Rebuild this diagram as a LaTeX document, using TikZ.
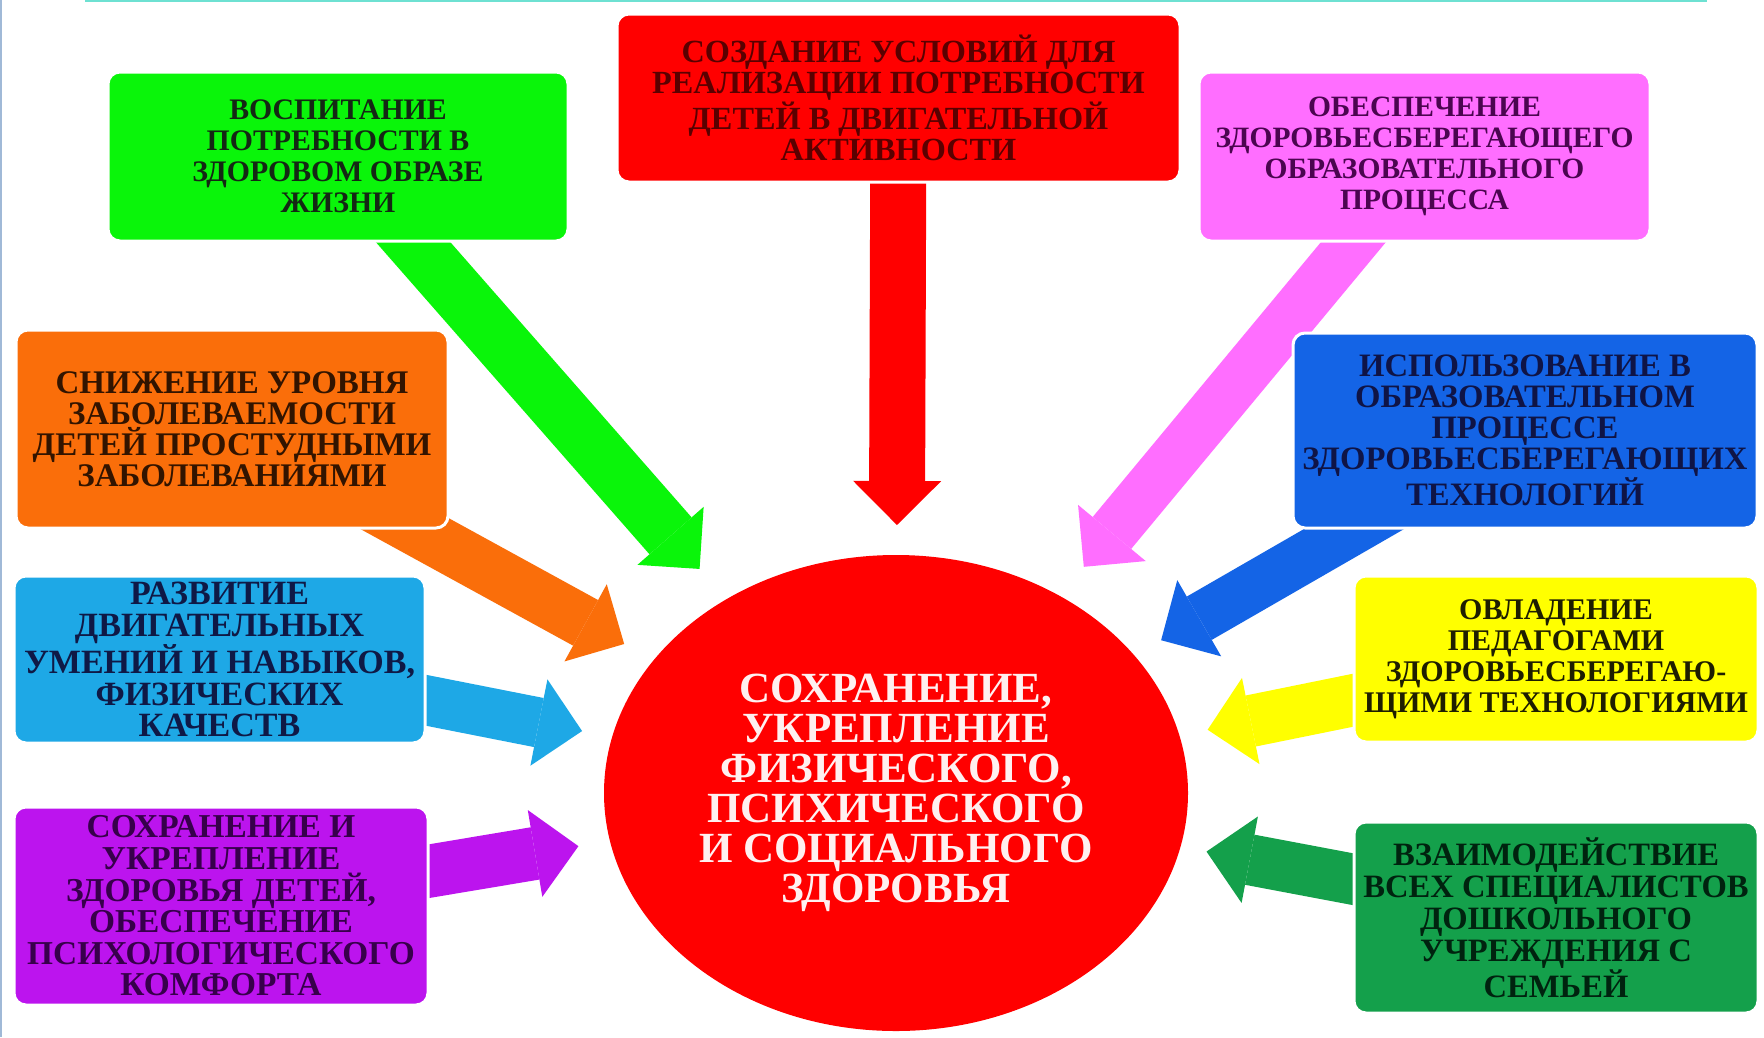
\documentclass[tikz,border=0pt]{standalone}
\usepackage{fontspec}
\setmainfont{Liberation Serif}
\usetikzlibrary{arrows.meta,shapes.geometric,calc}
\pgfdeclarelayer{bg}
\pgfsetlayers{bg,main}
\definecolor{cRed}{RGB}{255,0,0}
\definecolor{cGreen}{RGB}{10,245,10}
\definecolor{cPink}{RGB}{255,110,255}
\definecolor{cOrange}{RGB}{250,110,10}
\definecolor{cBlue}{RGB}{20,100,230}
\definecolor{cLBlue}{RGB}{30,168,230}
\definecolor{cYellow}{RGB}{255,255,0}
\definecolor{cPurple}{RGB}{188,20,238}
\definecolor{cDGreen}{RGB}{20,160,75}
\definecolor{tRed}{RGB}{90,0,0}
\definecolor{tGreen}{RGB}{20,40,20}
\definecolor{tPink}{RGB}{75,5,80}
\definecolor{tOrange}{RGB}{50,20,0}
\definecolor{tBlue}{RGB}{15,20,70}
\definecolor{tLBlue}{RGB}{15,25,70}
\definecolor{tYellow}{RGB}{30,30,0}
\definecolor{tPurple}{RGB}{55,0,75}
\definecolor{tDGreen}{RGB}{0,35,15}
\definecolor{topLine}{RGB}{110,225,210}
\definecolor{leftLine}{RGB}{160,185,215}
\definecolor{ellText}{RGB}{255,240,240}
\begin{document}
\begin{tikzpicture}[x=1pt,y=-1pt,
  box/.style={rectangle, rounded corners=12pt, draw=white, line width=3pt,
    align=center, inner sep=0pt, font=\bfseries},
  blockarrow/.style={line width=#1, -{Triangle[width=88pt,length=44pt,line width=0pt]}},
  blockarrow/.default=54pt,
  edgeline/.style={line width=2.5pt}
]
\useasboundingbox (0,0) rectangle (1764,1037);
\begin{pgfonlayer}{bg}
\fill[white] (0,0) rectangle (1764,1037);
\end{pgfonlayer}

% central ellipse
\node[ellipse, fill=cRed, minimum width=584pt, minimum height=476pt, inner sep=0pt,
  text=ellText, align=center, font=\bfseries\fontsize{43}{40}\selectfont] (ell) at (896,793)
  {СОХРАНЕНИЕ,\\УКРЕПЛЕНИЕ\\ФИЗИЧЕСКОГО,\\ПСИХИЧЕСКОГО\\И СОЦИАЛЬНОГО\\ЗДОРОВЬЯ};

% boxes
\node[box, fill=cRed, text=tRed, minimum width=563pt, minimum height=168pt,
  font=\bfseries\fontsize{32.3}{31}\selectfont] (create) at (898.5,98)
  {СОЗДАНИЕ УСЛОВИЙ ДЛЯ\\РЕАЛИЗАЦИИ ПОТРЕБНОСТИ\\ДЕТЕЙ В ДВИГАТЕЛЬНОЙ\\АКТИВНОСТИ};
\node[box, fill=cGreen, text=tGreen, minimum width=460pt, minimum height=169pt,
  font=\bfseries\fontsize{29.8}{31}\selectfont] (educ) at (338,156.5)
  {ВОСПИТАНИЕ\\ПОТРЕБНОСТИ В\\ЗДОРОВОМ ОБРАЗЕ\\ЖИЗНИ};
\node[box, fill=cPink, text=tPink, minimum width=451pt, minimum height=169pt,
  font=\bfseries\fontsize{29.5}{31}\selectfont] (provide) at (1424.5,156.5)
  {ОБЕСПЕЧЕНИЕ\\ЗДОРОВЬЕСБЕРЕГАЮЩЕГО\\ОБРАЗОВАТЕЛЬНОГО\\ПРОЦЕССА};
\node[box, fill=cOrange, text=tOrange, minimum width=432pt, minimum height=198pt,
  font=\bfseries\fontsize{33}{31}\selectfont] (reduce) at (232,429)
  {СНИЖЕНИЕ УРОВНЯ\\ЗАБОЛЕВАЕМОСТИ\\ДЕТЕЙ ПРОСТУДНЫМИ\\ЗАБОЛЕВАНИЯМИ};
\node[box, fill=cBlue, text=tBlue, minimum width=464pt, minimum height=195pt,
  font=\bfseries\fontsize{32.7}{31}\selectfont] (usage) at (1525,430.5)
  {ИСПОЛЬЗОВАНИЕ В\\ОБРАЗОВАТЕЛЬНОМ\\ПРОЦЕССЕ\\ЗДОРОВЬЕСБЕРЕГАЮЩИХ\\ТЕХНОЛОГИЙ};
\node[box, fill=cLBlue, text=tLBlue, minimum width=411pt, minimum height=167pt,
  font=\bfseries\fontsize{34}{31.8}\selectfont] (develop) at (219.5,659.5)
  {РАЗВИТИЕ\\ДВИГАТЕЛЬНЫХ\\УМЕНИЙ И НАВЫКОВ,\\ФИЗИЧЕСКИХ\\КАЧЕСТВ};
\node[box, fill=cYellow, text=tYellow, minimum width=404pt, minimum height=166pt,
  font=\bfseries\fontsize{30}{31}\selectfont] (master) at (1556,659)
  {ОВЛАДЕНИЕ\\ПЕДАГОГАМИ\\ЗДОРОВЬЕСБЕРЕГАЮ-\\ЩИМИ ТЕХНОЛОГИЯМИ};
\node[box, fill=cPurple, text=tPurple, minimum width=414pt, minimum height=198pt,
  font=\bfseries\fontsize{33.4}{31.6}\selectfont] (preserve) at (221,906)
  {СОХРАНЕНИЕ И\\УКРЕПЛЕНИЕ\\ЗДОРОВЬЯ ДЕТЕЙ,\\ОБЕСПЕЧЕНИЕ\\ПСИХОЛОГИЧЕСКОГО\\КОМФОРТА};
\node[box, fill=cDGreen, text=tDGreen, minimum width=404pt, minimum height=191pt,
  font=\bfseries\fontsize{32.6}{32}\selectfont] (interact) at (1556,917.5)
  {ВЗАИМОДЕЙСТВИЕ\\ВСЕХ СПЕЦИАЛИСТОВ\\ДОШКОЛЬНОГО\\УЧРЕЖДЕНИЯ С\\СЕМЬЕЙ};

% arrow tips, on the lines from each box towards the ellipse centre
\coordinate (tCreate)   at ($(ell.center)!268pt!(create.center)$);
\coordinate (tEduc)     at ($(ell.center)!298pt!(educ.center)$);
\coordinate (tProvide)  at ($(ell.center)!294pt!(provide.center)$);
\coordinate (tReduce)   at ($(ell.center)!310pt!(reduce.center)$);
\coordinate (tUsage)    at ($(ell.center)!306pt!(usage.center)$);
\coordinate (tDevelop)  at ($(ell.center)!320pt!(develop.center)$);
\coordinate (tMaster)   at ($(ell.center)!318pt!(master.center)$);
\coordinate (tPreserve) at ($(ell.center)!322pt!(preserve.center)$);
\coordinate (tInteract) at ($(ell.center)!316pt!(interact.center)$);

\begin{pgfonlayer}{bg}
\draw[blockarrow=56pt, cRed]    (create.center)   -- (tCreate);
\draw[blockarrow=56pt, cGreen]  (educ.center)     -- (tEduc);
\draw[blockarrow=50pt, cPink]   (provide.center)  -- (tProvide);
\draw[blockarrow=52pt, cOrange] (reduce.center)   -- (tReduce);
\draw[blockarrow=50pt, cBlue]   (usage.center)    -- (tUsage);
\draw[blockarrow=50pt, cLBlue]  (develop.center)  -- (tDevelop);
\draw[blockarrow=52pt, cYellow] (master.center)   -- (tMaster);
\draw[blockarrow=53pt, cPurple] (preserve.center) -- (tPreserve);
\draw[blockarrow=51pt, cDGreen] (interact.center) -- (tInteract);
\end{pgfonlayer}

% thin frame lines at the top and left edge
\coordinate (topA) at (85,1.2);
\coordinate (topB) at (1707,1.2);
\coordinate (leftA) at (1.2,0);
\coordinate (leftB) at (1.2,1037);
\draw[edgeline, topLine] (topA) -- (topB);
\draw[edgeline, leftLine] (leftA) -- (leftB);
\end{tikzpicture}
\end{document}
